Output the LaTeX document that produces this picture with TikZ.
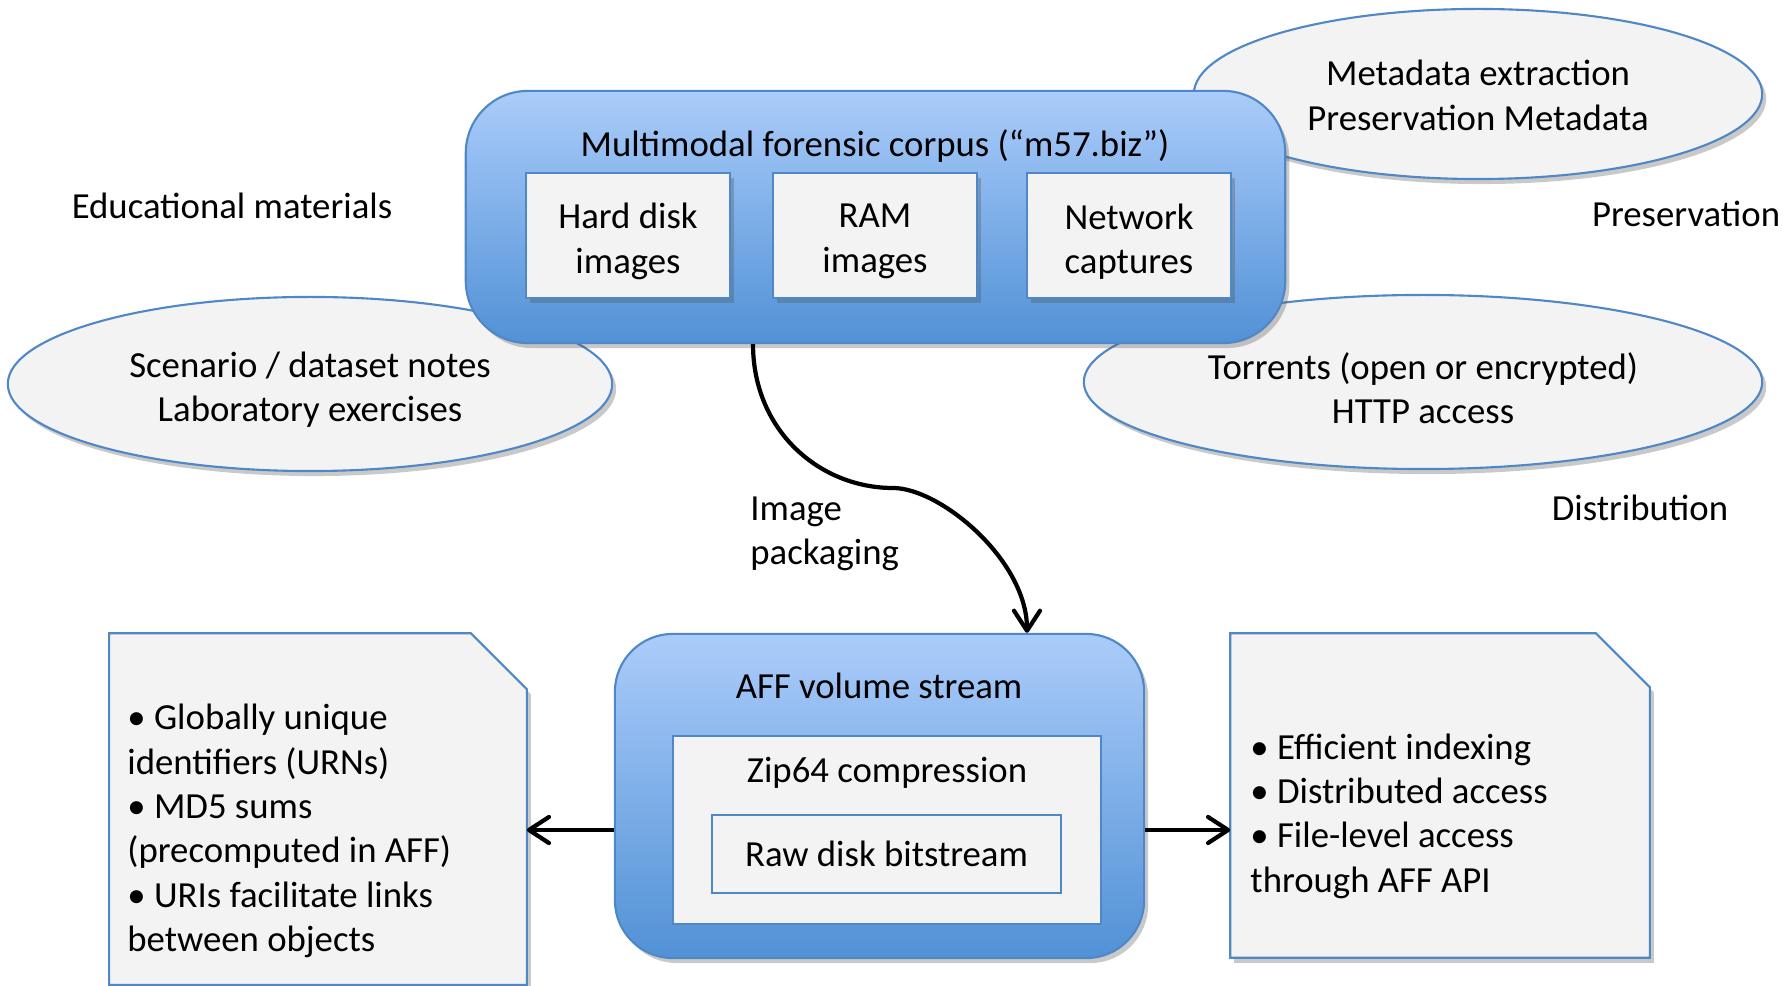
\documentclass[tikz,border=0pt]{standalone}
\usepackage{fontspec}
\setmainfont{Carlito}
\usetikzlibrary{arrows.meta,calc,shapes.geometric,shadows}
\definecolor{BlueTop}{rgb}{0.67,0.80,0.98}
\definecolor{BlueBot}{rgb}{0.32,0.57,0.84}
\definecolor{BlueLine}{rgb}{0.31,0.53,0.78}
\definecolor{PaleFill}{rgb}{0.953,0.953,0.953}

\begin{document}
\begin{tikzpicture}[x=0.01cm,y=-0.01cm,
  every node/.style={font=\fontsize{10.45}{12.6}\selectfont},
  softshadow/.style={drop shadow={shadow xshift=0.04cm,shadow yshift=-0.05cm,opacity=0.3,fill=black!70}},
  bluebox/.style={draw=BlueLine,line width=0.6pt,rounded corners=0.62cm,top color=BlueTop,bottom color=BlueBot,softshadow,inner sep=0pt},
  palebox/.style={draw=BlueLine,line width=0.6pt,fill=PaleFill},
  boxtext/.style={label={[align=center,yshift=-0.06cm]center:#1}},
  itembox/.style={palebox,softshadow,minimum width=2.04cm,minimum height=1.25cm,inner sep=0pt},
  bubble/.style={ellipse,palebox,softshadow,inner sep=0pt},
  notearea/.style={inner sep=0pt},
  flow/.style={line width=1.2pt,-{Straight Barb[length=0.2cm,width=0.26cm,round]}}]
\useasboundingbox (0,0) rectangle (1783,986);

% Step 1. bubbles behind the corpus
\node[bubble,minimum width=5.68cm,minimum height=1.70cm,label={[align=center,yshift=-0.015cm]center:Metadata extraction\\Preservation Metadata}] (metabub) at (1478,94) {};
\node[bubble,minimum width=6.04cm,minimum height=1.74cm,boxtext={Scenario / dataset notes\\Laboratory exercises}] (edubub) at (310,384) {};
\node[bubble,minimum width=6.78cm,minimum height=1.74cm,boxtext={Torrents (open or encrypted)\\HTTP access}] (distbub) at (1423,382) {};

\node (edu) at (232,206) {Educational materials};
\node (pres) at (1686,214) {Preservation};
\node (dist) at (1640,508) {Distribution};

% Step 2. corpus
\node[bluebox,minimum width=8.19cm,minimum height=2.52cm] (corpus) at (875.5,217) {};
\node (corptitle) at (875,146) {Multimodal forensic corpus (“m57.biz”)};
\node[itembox,boxtext={Hard disk\\images}] (hdd) at (628,235.5) {};
\node[itembox,boxtext={RAM\\images}] (ram) at (875,235.5) {};
\node[itembox,boxtext={Network\\captures}] (net) at (1129,235.5) {};

% Step 3. AFF stream
\node[bluebox,rounded corners=0.58cm,minimum width=5.29cm,minimum height=3.24cm] (aff) at (879.5,796) {};
\node (afftitle) at (879,686) {AFF volume stream};
\node[palebox,minimum width=4.28cm,minimum height=1.88cm] (zip) at (887,830) {};
\node (ziptitle) at (887,773) {Zip64 compression};
\node[palebox,minimum width=3.49cm,minimum height=0.78cm] (raw) at (886.5,854) {Raw disk bitstream};

% Step 4. notes
\node[notearea,minimum width=4.16cm,minimum height=3.50cm] (leftnote) at (318,809) {};
\draw[palebox,softshadow] (leftnote.south west) -- (leftnote.north west) -- ($(leftnote.north east)+(-56,0)$)
  -- ($(leftnote.north east)+(0,56)$) -- (leftnote.south east) -- cycle;
\node[align=left,anchor=west] (leftlist) at (115,831) {• Globally unique\\identifiers (URNs)\\• MD5 sums\\(precomputed in AFF)\\• URIs facilitate links\\between objects};
\node[notearea,minimum width=4.18cm,minimum height=3.23cm] (rightnote) at (1440,795.5) {};
\draw[palebox,softshadow] (rightnote.south west) -- (rightnote.north west) -- ($(rightnote.north east)+(-54,0)$)
  -- ($(rightnote.north east)+(0,54)$) -- (rightnote.south east) -- cycle;
\node[align=left,anchor=west] (rightlist) at (1238,816) {• Efficient indexing\\• Distributed access\\• File-level access\\through AFF API};

% Step 5. connectors
\coordinate (pkgmid) at (893,488);
\draw[flow] ($(corpus.south)+(-122.5,0)$) .. controls +(0,87) and +(-73,0) .. (pkgmid)
  .. controls +(47,0) and +(0,-73) .. ($(aff.north)+(147.5,0)$);
\node[align=left,anchor=west] (pkglabel) at (738,534) {Image\\packaging};
\draw[flow] (aff.west |- zip.center) -- (leftnote.east |- zip.center);
\draw[flow] (aff.east |- zip.center) -- (rightnote.west |- zip.center);

\end{tikzpicture}
\end{document}
